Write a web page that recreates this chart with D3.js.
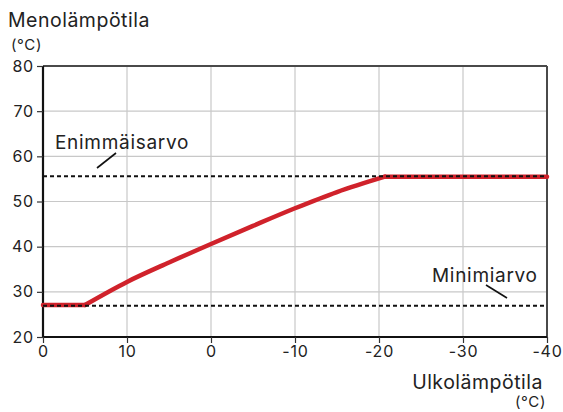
<!DOCTYPE html>
<html><head><meta charset="utf-8">
<script src="https://cdn.jsdelivr.net/npm/d3@7"></script>
<style>body{margin:0;background:#fff}svg{display:block}text{font-family:Inter,"Noto Sans",sans-serif;fill:#222}</style>
</head><body><svg id="c" width="563" height="412"></svg>
<script>
const xTicks = [20, 10, 0, -10, -20, -30, -40];
const xTickLabels = ["0", "10", "0", "-10", "-20", "-30", "-40"];
const yTicks = [20, 30, 40, 50, 60, 70, 80];
const curveX = [20, 15, 10, 5, 0, -5, -10, -15, -20.7, -40];
const curveY = [27.1, 27.1, 32.2, 36.5, 40.6, 44.6, 48.5, 52.1, 55.5, 55.5];
const maxValue = 55.6;
const minValue = 26.9;
const labels = {yTitle: "Menolämpötila", yUnit: "(°C)", xTitle: "Ulkolämpötila", xUnit: "(°C)", max: "Enimmäisarvo", min: "Minimiarvo"};

const svg = d3.select("#c");
const L = 43, R = 547, T = 66, B = 337;
const x = d3.scaleLinear().domain([20, -40]).range([L, R]);
const y = d3.scaleLinear().domain([20, 80]).range([B, T]);

// grid
svg.append("g").selectAll("line").data(xTicks.slice(1, -1)).join("line")
  .attr("x1", d => x(d)).attr("x2", d => x(d)).attr("y1", T).attr("y2", B)
  .attr("stroke", "#c8c8c8").attr("stroke-width", 1.2);
svg.append("g").selectAll("line").data(yTicks.slice(1, -1)).join("line")
  .attr("x1", L).attr("x2", R).attr("y1", d => y(d)).attr("y2", d => y(d))
  .attr("stroke", "#c8c8c8").attr("stroke-width", 1.2);

// frame top/right
svg.append("line").attr("x1", L).attr("x2", R).attr("y1", T).attr("y2", T).attr("stroke", "#4a4a4a").attr("stroke-width", 2);
svg.append("line").attr("x1", R).attr("x2", R).attr("y1", T).attr("y2", B).attr("stroke", "#4a4a4a").attr("stroke-width", 2);

// axes
const xAxis = d3.axisBottom(x).tickValues(xTicks).tickFormat((d, i) => xTickLabels[i]).tickSize(6).tickPadding(3);
const gx = svg.append("g").attr("transform", `translate(0,${B})`).call(xAxis);
const yAxis = d3.axisLeft(y).tickValues(yTicks).tickSize(6).tickPadding(3);
const gy = svg.append("g").attr("transform", `translate(${L},0)`).call(yAxis);
[gx, gy].forEach(g => {
  g.select(".domain").attr("stroke", "#111").attr("stroke-width", 2.2);
  g.selectAll(".tick line").attr("stroke", "#333").attr("stroke-width", 1.2);
  g.selectAll(".tick text").style("font-family", "Inter, 'Noto Sans', sans-serif").style("font-size", "16px").style("letter-spacing", "0.8px").attr("fill", "#333");
});
gx.select(".domain").attr("d", `M${L},0H${R}`);
gy.select(".domain").attr("d", `M0,${B}V${T}`);

// curve: flat start, smooth rise, flat end
const pts = curveX.map((v, i) => [v, curveY[i]]);
const n = pts.length;
const lin = d3.line().x(d => x(d[0])).y(d => y(d[1]));
const smooth = d3.line().x(d => x(d[0])).y(d => y(d[1])).curve(d3.curveMonotoneX);
const redStyle = p => p.attr("fill", "none").attr("stroke", "#d0222b").attr("stroke-width", 4.5).attr("stroke-linejoin", "round").attr("stroke-linecap", "round");
svg.append("path").datum(pts.slice(0, 2)).attr("d", lin).call(redStyle);
svg.append("path").datum(pts.slice(1, n - 1)).attr("d", smooth).call(redStyle);
svg.append("path").datum(pts.slice(n - 2)).attr("d", lin).call(redStyle);

// dashed limits
[maxValue, minValue].forEach(v => {
  svg.append("line").attr("x1", L).attr("x2", R).attr("y1", y(v)).attr("y2", y(v))
    .attr("stroke", "#111").attr("stroke-width", 2).attr("stroke-dasharray", "4,3");
});

// annotations
const ann = {fs: "19px", ls: "0.7px"};
svg.append("text").attr("x", 55).attr("y", 149).style("font-size", ann.fs).style("letter-spacing", ann.ls).text(labels.max);
svg.append("line").attr("x1", 97).attr("y1", 168).attr("x2", 116).attr("y2", 153).attr("stroke", "#111").attr("stroke-width", 1.6);
svg.append("text").attr("x", 432).attr("y", 282).style("font-size", ann.fs).style("letter-spacing", ann.ls).text(labels.min);
svg.append("line").attr("x1", 486).attr("y1", 285).attr("x2", 507).attr("y2", 298).attr("stroke", "#111").attr("stroke-width", 1.6);

// titles
svg.append("text").attr("x", 8).attr("y", 27).style("font-size", "19.5px").style("letter-spacing", "0.5px").text(labels.yTitle);
svg.append("text").attr("x", 11).attr("y", 50).style("font-size", "15px").style("letter-spacing", "0.6px").attr("fill", "#444").text(labels.yUnit);
svg.append("text").attr("x", 543).attr("y", 389).attr("text-anchor", "end").style("font-size", "19.5px").style("letter-spacing", "0.5px").text(labels.xTitle);
svg.append("text").attr("x", 546).attr("y", 407).attr("text-anchor", "end").style("font-size", "15px").style("letter-spacing", "0.6px").attr("fill", "#444").text(labels.xUnit);
</script></body></html>
